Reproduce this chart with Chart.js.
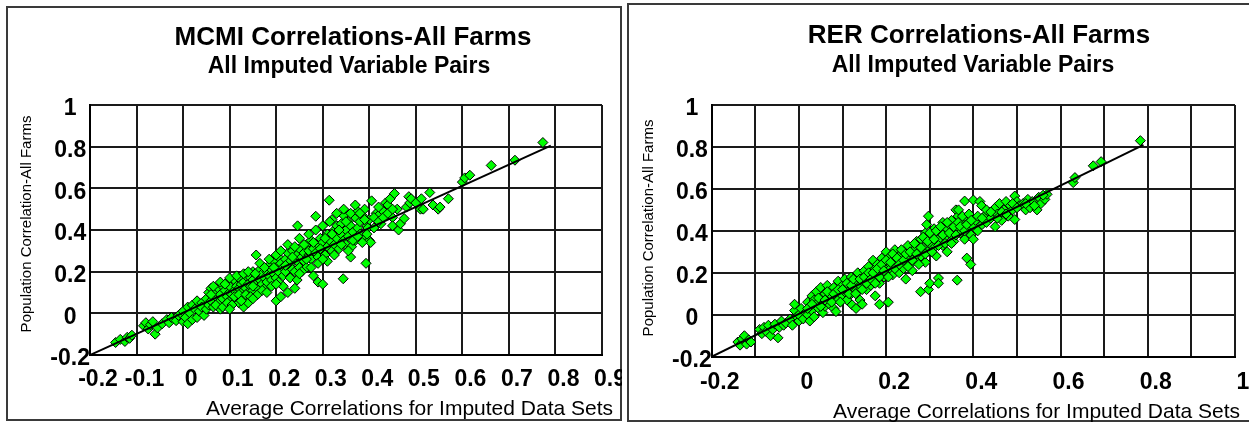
<!DOCTYPE html>
<html>
<head>
<meta charset="utf-8">
<title>MCMI and RER Correlations - All Farms</title>
<script src="https://cdn.jsdelivr.net/npm/chart.js@4.4.1/dist/chart.umd.min.js"></script>
<style>
  html, body { margin: 0; padding: 0; background: #fff; }
  #page { position: relative; width: 1249px; height: 423px; overflow: hidden; }
  .panel { position: absolute; border: 2px solid #3a3a3a; box-sizing: border-box; }
  #leftPanel { left: 6px; top: 6px; width: 616px; height: 415px; }
  #rightPanel { left: 627px; top: 3px; width: 630px; height: 419px; }
  canvas { position: absolute; left: 0; top: 0; }
</style>
</head>
<body>
<div id="page">
  <div class="panel" id="leftPanel"></div>
  <div class="panel" id="rightPanel"></div>
  <canvas id="rightChart" width="1249" height="423"></canvas>
  <canvas id="leftChart" width="622" height="423"></canvas>
</div>
<script>
// ---- data ----
// MCMI: [average imputed correlation, population correlation]
const mcmiPoints = [
  [-0.145,-0.14],[-0.135,-0.125],[-0.125,-0.135],[-0.12,-0.115],[-0.115,-0.12],[-0.11,-0.105],
  [-0.085,-0.06],[-0.08,-0.045],[-0.075,-0.075],[-0.07,-0.055],[-0.065,-0.04],[-0.06,-0.1],
  [-0.055,-0.07],[-0.045,-0.05],[-0.035,-0.03],[-0.03,-0.045],[-0.025,-0.02],[-0.015,-0.035],
  [-0.01,-0.01],[-0.005,0.0],
  [0.0,-0.04],[0.0,0.01],[0.005,-0.02],[0.01,0.03],[0.01,-0.05],[0.015,0.0],[0.02,0.04],
  [0.02,-0.03],[0.025,0.02],[0.03,0.06],[0.03,-0.02],[0.035,0.01],[0.04,0.05],[0.04,0.03],
  [0.045,-0.01],[0.05,0.07],[0.05,0.02],[0.055,0.1],[0.055,0.04],
  [0.06,0.06],[0.06,0.12],[0.065,0.03],[0.07,0.08],[0.07,0.1],[0.075,0.05],[0.075,0.12],
  [0.08,0.09],[0.08,0.02],[0.085,0.07],[0.085,0.13],[0.09,0.11],[0.09,0.04],[0.095,0.08],
  [0.095,0.15],[0.1,0.1],[0.1,0.06],[0.1,0.13],[0.105,0.09],[0.11,0.16],[0.11,0.11],
  [0.115,0.07],[0.115,0.13],[0.12,0.12],[0.12,0.05],[0.12,0.17],[0.125,0.1],[0.125,0.14],
  [0.13,0.08],[0.13,0.03],[0.13,0.15],[0.135,0.12],[0.135,0.18],[0.14,0.1],[0.14,0.05],
  [0.14,0.14],[0.145,0.17],[0.145,0.13],[0.15,0.11],[0.15,0.16],[0.15,0.2],
  [0.155,0.14],[0.157,0.28],[0.16,0.18],[0.16,0.12],[0.165,0.16],[0.165,0.21],[0.17,0.14],
  [0.17,0.19],[0.175,0.12],[0.175,0.17],[0.18,0.2],[0.18,0.15],[0.185,0.23],[0.185,0.18],
  [0.19,0.16],[0.19,0.21],[0.195,0.25],[0.195,0.19],[0.2,0.22],[0.2,0.17],[0.2,0.06],
  [0.205,0.27],[0.205,0.2],[0.21,0.24],[0.21,0.08],[0.215,0.18],[0.215,0.22],[0.22,0.26],
  [0.22,0.2],[0.225,0.1],[0.225,0.29],[0.23,0.23],[0.23,0.25],[0.235,0.21],[0.235,0.3],
  [0.24,0.26],[0.24,0.12],[0.24,0.2],[0.245,0.28],[0.246,0.42],[0.25,0.24],[0.25,0.31],[0.25,0.22],
  [0.255,0.27],[0.26,0.29],[0.26,0.25],[0.265,0.33],[0.265,0.22],[0.27,0.28],[0.27,0.3],
  [0.275,0.26],[0.275,0.35],[0.28,0.31],[0.28,0.18],[0.285,0.29],[0.285,0.466],[0.29,0.15],
  [0.29,0.33],[0.29,0.27],[0.295,0.36],[0.3,0.3],[0.3,0.14],[0.3,0.34],[0.305,0.28],
  [0.31,0.38],[0.31,0.32],[0.314,0.543],[0.315,0.35],[0.32,0.3],[0.32,0.45],[0.325,0.4],
  [0.325,0.33],[0.33,0.36],[0.33,0.42],[0.335,0.31],[0.34,0.38],[0.34,0.43],[0.344,0.166],
  [0.345,0.35],[0.345,0.47],[0.35,0.4],[0.35,0.33],
  [0.355,0.37],[0.355,0.44],[0.36,0.27],[0.36,0.42],[0.362,0.32],[0.365,0.39],[0.37,0.46],
  [0.37,0.35],[0.375,0.41],[0.375,0.49],[0.38,0.44],[0.38,0.38],[0.385,0.47],[0.39,0.36],
  [0.39,0.5],[0.393,0.24],[0.395,0.42],[0.397,0.41],[0.4,0.35],[0.4,0.45],[0.403,0.34],
  [0.405,0.54],[0.41,0.41],[0.415,0.48],[0.42,0.47],[0.425,0.43],[0.43,0.49],[0.435,0.53],
  [0.44,0.52],[0.445,0.55],[0.45,0.46],[0.45,0.42],
  [0.454,0.575],[0.46,0.5],[0.463,0.4],[0.467,0.43],[0.475,0.455],[0.48,0.51],[0.485,0.56],
  [0.487,0.53],[0.49,0.55],[0.5,0.53],[0.51,0.5],[0.512,0.55],[0.516,0.5],[0.53,0.58],
  [0.537,0.52],[0.548,0.5],[0.552,0.51],[0.57,0.55],[0.6,0.63],[0.605,0.65],[0.616,0.663],
  [0.662,0.71],[0.713,0.735],[0.773,0.82],
  // second pass over the dense band
  [0.06,0.09],[0.065,0.13],[0.07,0.04],[0.08,0.15],[0.085,0.03],[0.09,0.14],[0.095,0.05],
  [0.1,0.17],[0.105,0.04],[0.11,0.08],[0.115,0.18],[0.12,0.09],[0.125,0.06],[0.13,0.19],
  [0.135,0.09],[0.14,0.2],[0.145,0.08],[0.15,0.13],[0.155,0.19],[0.16,0.09],[0.165,0.24],
  [0.17,0.11],[0.175,0.22],[0.18,0.1],[0.185,0.26],[0.19,0.13],[0.195,0.22],[0.2,0.28],
  [0.205,0.15],[0.21,0.3],[0.215,0.13],[0.22,0.23],[0.225,0.33],[0.23,0.17],[0.235,0.27],
  [0.24,0.32],[0.245,0.16],[0.25,0.36],[0.255,0.2],[0.26,0.33],[0.265,0.26],[0.27,0.38],
  [0.275,0.22],[0.28,0.34],[0.285,0.4],[0.29,0.24],[0.295,0.31],[0.3,0.42],[0.305,0.36],
  [0.31,0.25],[0.315,0.44],[0.32,0.38],[0.325,0.28],[0.33,0.48],[0.335,0.4],[0.34,0.33],
  [0.345,0.5],[0.35,0.44],[0.355,0.3],[0.36,0.48],[0.365,0.35],[0.37,0.52],[0.375,0.37],
  [0.38,0.48],[0.385,0.34],[0.39,0.45],[0.395,0.38],[0.41,0.46],[0.42,0.44],[0.43,0.46],
  [0.44,0.48],[0.45,0.5],[0.42,0.51],[0.3,0.26],[0.25,0.19],[0.2,0.14],[0.15,0.07],[0.1,0.02]
];

// RER: [average imputed correlation, population correlation]
const rerPoints = [
  [-0.14,-0.13],[-0.135,-0.145],[-0.13,-0.115],[-0.125,-0.1],[-0.12,-0.14],[-0.115,-0.12],
  [-0.11,-0.13],[-0.09,-0.07],[-0.085,-0.09],[-0.08,-0.06],[-0.075,-0.08],[-0.07,-0.05],
  [-0.065,-0.1],[-0.06,-0.07],[-0.055,-0.045],[-0.048,-0.11],[-0.045,-0.06],[-0.04,-0.03],
  [-0.035,-0.05],[-0.03,-0.04],[-0.02,-0.02],[-0.015,-0.05],[-0.01,0.02],[-0.01,0.05],
  [-0.005,-0.01],[0.0,-0.03],[0.0,0.0],
  [0.005,0.03],[0.01,-0.02],[0.015,0.01],[0.02,0.06],[0.02,0.0],[0.025,-0.03],[0.025,0.04],
  [0.03,0.09],[0.03,0.02],[0.035,0.07],[0.035,-0.01],[0.04,0.05],[0.04,0.11],[0.045,0.03],
  [0.05,0.08],[0.05,0.13],[0.055,0.06],[0.055,0.01],[0.06,0.1],[0.06,0.04],[0.065,0.14],
  [0.065,0.07],[0.07,0.11],[0.07,0.05],[0.075,0.09],[0.08,0.13],[0.08,0.03],[0.085,0.015],
  [0.085,0.1],[0.09,0.16],[0.09,0.07],[0.095,0.12],[0.1,0.09],[0.1,0.14],
  [0.105,0.11],[0.105,0.17],[0.11,0.07],[0.11,0.13],[0.115,0.15],[0.12,0.1],[0.12,0.18],
  [0.122,0.047],[0.125,0.13],[0.13,0.16],[0.131,0.03],[0.135,0.11],[0.135,0.2],[0.14,0.14],
  [0.14,0.07],[0.145,0.17],[0.145,0.05],[0.15,0.15],[0.15,0.21],[0.155,0.12],[0.16,0.18],
  [0.16,0.23],[0.165,0.14],[0.165,0.2],[0.17,0.16],[0.17,0.26],[0.175,0.22],[0.175,0.09],
  [0.18,0.19],[0.18,0.24],[0.185,0.15],[0.185,0.05],[0.19,0.21],[0.19,0.27],[0.195,0.18],
  [0.2,0.23],[0.2,0.2],[0.2,0.3],
  [0.205,0.06],[0.205,0.25],[0.21,0.22],[0.21,0.28],[0.215,0.19],[0.22,0.26],[0.22,0.31],
  [0.225,0.23],[0.23,0.2],[0.23,0.28],[0.235,0.25],[0.24,0.3],[0.24,0.22],[0.245,0.17],
  [0.25,0.27],[0.25,0.33],[0.255,0.24],[0.26,0.29],[0.26,0.21],[0.265,0.31],[0.27,0.26],
  [0.27,0.35],[0.275,0.3],[0.279,0.11],[0.28,0.28],[0.28,0.36],[0.285,0.32],[0.29,0.25],
  [0.29,0.39],[0.293,0.43],[0.295,0.3],[0.297,0.47],[0.297,0.12],[0.3,0.34],[0.3,0.15],
  [0.305,0.37],[0.31,0.32],[0.31,0.41],[0.315,0.28],[0.32,0.36],[0.32,0.175],[0.32,0.15],
  [0.325,0.39],[0.33,0.33],[0.33,0.44],[0.335,0.37],[0.34,0.41],[0.34,0.3],[0.345,0.43],
  [0.35,0.38],[0.35,0.45],[0.355,0.35],[0.36,0.5],[0.36,0.41],[0.363,0.165],[0.365,0.47],
  [0.366,0.5],[0.37,0.39],[0.37,0.44],[0.375,0.42],[0.38,0.542],[0.38,0.36],[0.385,0.27],
  [0.385,0.46],[0.39,0.4],[0.39,0.44],[0.394,0.24],[0.395,0.38],[0.4,0.42],[0.4,0.36],[0.4,0.547],
  [0.405,0.45],[0.41,0.4],[0.415,0.54],[0.419,0.52],[0.42,0.43],[0.425,0.47],[0.43,0.44],
  [0.435,0.49],[0.44,0.46],[0.45,0.51],[0.45,0.42],[0.455,0.48],[0.46,0.53],[0.465,0.45],
  [0.47,0.5],[0.475,0.54],[0.48,0.47],[0.485,0.52],[0.49,0.5],[0.495,0.566],[0.495,0.454],[0.5,0.54],
  [0.505,0.52],[0.514,0.53],[0.52,0.5],[0.525,0.55],[0.53,0.51],[0.535,0.54],[0.546,0.5],
  [0.55,0.56],[0.555,0.53],[0.564,0.55],[0.569,0.574],[0.629,0.63],[0.633,0.654],
  [0.675,0.71],[0.693,0.73],[0.783,0.83],
  // second pass over the dense band
  [0.02,0.03],[0.03,0.05],[0.045,0.08],[0.05,0.04],[0.06,0.07],[0.065,0.11],[0.075,0.06],
  [0.08,0.1],[0.09,0.12],[0.095,0.06],[0.1,0.12],[0.11,0.15],[0.115,0.1],[0.12,0.14],
  [0.125,0.17],[0.13,0.1],[0.14,0.17],[0.145,0.12],[0.15,0.18],[0.155,0.15],[0.16,0.2],
  [0.165,0.17],[0.17,0.2],[0.175,0.15],[0.18,0.22],[0.185,0.18],[0.19,0.24],[0.195,0.21],
  [0.2,0.26],[0.205,0.18],[0.21,0.25],[0.215,0.29],[0.22,0.22],[0.225,0.27],[0.23,0.24],
  [0.235,0.31],[0.24,0.26],[0.245,0.29],[0.25,0.23],[0.255,0.3],[0.26,0.26],[0.265,0.34],
  [0.27,0.29],[0.275,0.24],[0.28,0.32],[0.285,0.37],[0.29,0.29],[0.295,0.35],[0.3,0.39],
  [0.305,0.3],[0.31,0.36],[0.315,0.4],[0.32,0.33],[0.325,0.42],[0.33,0.38],[0.335,0.34],
  [0.34,0.44],[0.345,0.39],[0.35,0.34],[0.355,0.42],[0.36,0.38],[0.365,0.44],[0.37,0.42],
  [0.375,0.47],[0.38,0.4],[0.385,0.43],[0.39,0.48],[0.395,0.45],[0.41,0.47],[0.42,0.46],
  [0.43,0.5],[0.44,0.49],[0.455,0.46],[0.465,0.49],[0.475,0.48],[0.49,0.53],[0.5,0.51],
  [0.52,0.53],[0.54,0.52],[0.56,0.57]
];

// fitted lines (end points)
const mcmiFit = [[-0.2, -0.2], [0.79, 0.805]];
const rerFit = [[-0.2, -0.2], [0.79, 0.81]];

// axis ticks
const mcmiXTicks = [-0.2, -0.1, 0, 0.1, 0.2, 0.3, 0.4, 0.5, 0.6, 0.7, 0.8, 0.9];
const yTicks = [-0.2, 0, 0.2, 0.4, 0.6, 0.8, 1];
const rerXGrid = [-0.2, -0.1, 0, 0.1, 0.2, 0.3, 0.4, 0.5, 0.6, 0.7, 0.8, 0.9, 1];
const rerXLabels = [-0.2, 0, 0.2, 0.4, 0.6, 0.8, 1];

const FONT = "'Liberation Sans', Arial, sans-serif";

// titles and axis titles drawn at fixed spots
const panelText = {
  id: 'panelText',
  afterDraw(chart, args, o) {
    const ctx = chart.ctx;
    ctx.save();
    ctx.fillStyle = '#000';
    ctx.textBaseline = 'alphabetic';
    ctx.textAlign = 'center';
    ctx.font = 'bold 26px ' + FONT;
    ctx.fillText(o.title, o.titleX, o.titleY);
    ctx.font = 'bold 23px ' + FONT;
    ctx.fillText(o.subtitle, o.subX, o.subY);
    ctx.textAlign = 'right';
    ctx.font = '21px ' + FONT;
    ctx.fillText(o.xTitle, o.xTitleX, o.xTitleY);
    ctx.translate(o.yTitleX, o.yTitleY);
    ctx.rotate(-Math.PI / 2);
    ctx.textAlign = 'center';
    ctx.textBaseline = 'middle';
    ctx.font = '15px ' + FONT;
    ctx.fillText(o.yTitle, 0, 0);
    ctx.restore();
  }
};

function makeChart(id, points, fit, cfg) {
  const grid = { color: '#1a1a1a', lineWidth: 2, drawTicks: false };
  const border = { display: true, color: '#000', width: 2 };
  const tickFont = { family: FONT, size: 23, weight: 'bold' };
  return new Chart(document.getElementById(id), {
    type: 'scatter',
    data: {
      datasets: [
        {
          data: fit.map(p => ({ x: p[0], y: p[1] })),
          showLine: true,
          borderColor: '#000',
          borderWidth: 2,
          pointRadius: 0,
          order: 0
        },
        {
          data: points.map(p => ({ x: p[0], y: p[1] })),
          pointStyle: 'rectRot',
          pointRadius: 5,
          backgroundColor: '#00ff00',
          borderColor: '#000',
          borderWidth: 1,
          order: 1
        }
      ]
    },
    options: {
      responsive: false,
      animation: false,
      devicePixelRatio: 1,
      layout: { padding: cfg.padding },
      plugins: {
        legend: { display: false },
        tooltip: { enabled: false },
        panelText: cfg.text
      },
      scales: {
        x: {
          type: 'linear',
          min: cfg.xMin, max: cfg.xMax,
          grid: grid, border: border,
          afterBuildTicks: s => { s.ticks = cfg.xGrid.map(v => ({ value: v })); },
          afterFit: s => { s.height = 40; s.paddingLeft = 0; s.paddingRight = 0; },
          ticks: {
            autoSkip: false, maxRotation: 0, minRotation: 0,
            padding: cfg.xPad, labelOffset: 8,
            color: '#000', font: tickFont,
            callback: v => {
              const r = Math.round(v * 10) / 10;
              return cfg.xLabels.includes(r) ? String(r) : '';
            }
          }
        },
        y: {
          type: 'linear',
          min: -0.2, max: 1,
          grid: grid, border: border,
          afterBuildTicks: s => { s.ticks = yTicks.map(v => ({ value: v })); },
          afterFit: s => { s.width = 60; s.paddingTop = 0; s.paddingBottom = 0; },
          ticks: {
            padding: 0, crossAlign: 'center', labelOffset: 4,
            color: '#000', font: tickFont,
            callback: v => String(Math.round(v * 10) / 10)
          }
        }
      }
    },
    plugins: [panelText]
  });
}

makeChart('leftChart', mcmiPoints, mcmiFit, {
  xMin: -0.2, xMax: 0.9, xGrid: mcmiXTicks, xLabels: mcmiXTicks, xPad: 11,
  padding: { left: 30, top: 105, right: 20, bottom: 28 },
  text: {
    title: 'MCMI Correlations-All Farms', titleX: 353, titleY: 45,
    subtitle: 'All Imputed Variable Pairs', subX: 349, subY: 73,
    xTitle: 'Average Correlations for Imputed Data Sets', xTitleX: 613, xTitleY: 415,
    yTitle: 'Population Correlation-All Farms', yTitleX: 27, yTitleY: 224
  }
});

makeChart('rightChart', rerPoints, rerFit, {
  xMin: -0.2, xMax: 1, xGrid: rerXGrid, xLabels: rerXLabels, xPad: 12,
  padding: { left: 651.7, top: 105, right: 14, bottom: 26.3 },
  text: {
    title: 'RER Correlations-All Farms', titleX: 979, titleY: 43,
    subtitle: 'All Imputed Variable Pairs', subX: 973, subY: 72,
    xTitle: 'Average Correlations for Imputed Data Sets', xTitleX: 1240, xTitleY: 418,
    yTitle: 'Population Correlation-All Farms', yTitleX: 649, yTitleY: 228
  }
});
</script>
</body>
</html>
